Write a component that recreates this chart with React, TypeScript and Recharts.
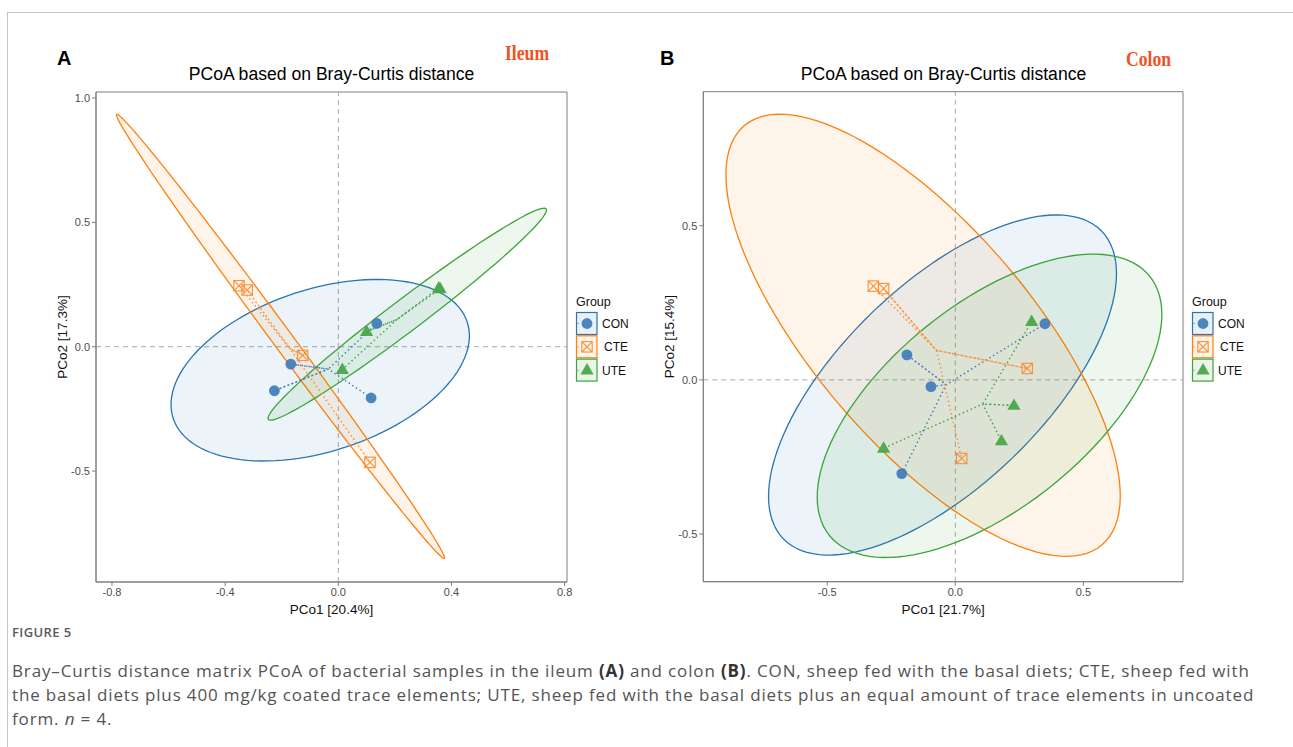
import React from 'react';
import {
  ScatterChart,
  Scatter,
  XAxis,
  YAxis,
  ReferenceLine,
  ReferenceArea,
  Legend,
  Label,
} from 'recharts';

type Pt = { x: number; y: number };
type Group = 'CON' | 'CTE' | 'UTE';

const GROUPS: Group[] = ['CON', 'CTE', 'UTE'];

const LINE_COLORS: Record<Group, string> = { CON: '#2b74b6', CTE: '#ff7f0e', UTE: '#3da33d' };
const POINT_COLORS: Record<Group, string> = { CON: '#3f7cb8', CTE: '#f7913a', UTE: '#4aa64a' };
const FILL_COLORS: Record<Group, string> = { CON: '#1f77b4', CTE: '#ff7f0e', UTE: '#2ca02c' };
const AXIS = '#7f7f7f';

// --- A: ileum (PCo1 / PCo2 scores, one per sheep) ---
const ileumCON: Pt[] = [
  { x: 0.136, y: 0.094 }, { x: -0.168, y: -0.07 }, { x: -0.226, y: -0.177 }, { x: 0.116, y: -0.206 },
];
const ileumCTE: Pt[] = [
  { x: -0.351, y: 0.245 }, { x: -0.322, y: 0.228 }, { x: -0.126, y: -0.035 }, { x: 0.112, y: -0.465 },
];
const ileumUTE: Pt[] = [
  { x: 0.36, y: 0.233 }, { x: 0.355, y: 0.236 }, { x: 0.1, y: 0.061 }, { x: 0.014, y: -0.092 },
];
// 95% ellipses: [centre, end of major axis, end of minor axis]
const ileumEllCON = [[-0.064, -0.0945], [0.4558, 0.0989], [0.0251, -0.4041]];
const ileumEllCTE = [[-0.2044, 0.0418], [0.3748, -0.8508], [-0.1761, 0.0655]];
const ileumEllUTE = [[0.2436, 0.1307], [0.7345, 0.5537], [0.2779, 0.0796]];
const ileumXTicks = [-0.8, -0.4, 0, 0.4, 0.8];
const ileumYTicks = [-0.5, 0, 0.5, 1.0];

// --- B: colon ---
const colonCON: Pt[] = [
  { x: 0.35, y: 0.182 }, { x: -0.189, y: 0.081 }, { x: -0.095, y: -0.022 }, { x: -0.209, y: -0.304 },
];
const colonCTE: Pt[] = [
  { x: -0.32, y: 0.304 }, { x: -0.28, y: 0.296 }, { x: 0.281, y: 0.037 }, { x: 0.025, y: -0.255 },
];
const colonUTE: Pt[] = [
  { x: 0.298, y: 0.189 }, { x: 0.229, y: -0.083 }, { x: 0.18, y: -0.198 }, { x: -0.28, y: -0.222 },
];
const colonEllCON = [[-0.05, -0.0167], [0.5715, 0.4822], [0.2242, -0.2522]];
const colonEllCTE = [[-0.1258, 0.1445], [0.573, -0.535], [0.1973, 0.3735]];
const colonEllUTE = [[0.1336, -0.0842], [0.7586, 0.3365], [0.3828, -0.3394]];
const colonXTicks = [-0.5, 0, 0.5];
const colonYTicks = [-0.5, 0, 0.5];

function ellipseOutline(e: number[][], n = 120): Pt[] {
  const [c, a, b] = e;
  const out: Pt[] = [];
  for (let i = 0; i <= n; i++) {
    const t = (2 * Math.PI * i) / n;
    out.push({
      x: c[0] + (a[0] - c[0]) * Math.cos(t) + (b[0] - c[0]) * Math.sin(t),
      y: c[1] + (a[1] - c[1]) * Math.cos(t) + (b[1] - c[1]) * Math.sin(t),
    });
  }
  return out;
}

// spokes from each sample to the group centroid
function spider(pts: Pt[]): Pt[] {
  const c = {
    x: pts.reduce((s, p) => s + p.x, 0) / pts.length,
    y: pts.reduce((s, p) => s + p.y, 0) / pts.length,
  };
  const out: Pt[] = [];
  pts.forEach((p, i) => {
    if (i > 0) out.push(c);
    out.push(p);
  });
  return out;
}

const fmt = (v: number) => v.toFixed(1);
const noShape = () => <g />;

function Marker({ g, cx, cy }: { g: Group; cx: number; cy: number }) {
  const col = POINT_COLORS[g];
  if (g === 'CON') return <circle cx={cx} cy={cy} r={5.4} fill={col} fillOpacity={0.92} />;
  if (g === 'CTE') {
    const h = 5.2;
    return (
      <g stroke={col} strokeWidth={1.1} fill="none">
        <rect x={cx - h} y={cy - h} width={2 * h} height={2 * h} />
        <line x1={cx - h} y1={cy - h} x2={cx + h} y2={cy + h} />
        <line x1={cx - h} y1={cy + h} x2={cx + h} y2={cy - h} />
      </g>
    );
  }
  return (
    <polygon
      points={`${cx},${cy - 7} ${cx - 6.6},${cy + 4.4} ${cx + 6.6},${cy + 4.4}`}
      fill={col}
      fillOpacity={0.95}
    />
  );
}

function ellipseLine(g: Group) {
  return (props: any) => {
    const pts: { x: number; y: number }[] = props.points || [];
    const d = pts.map((p, i) => `${i ? 'L' : 'M'}${p.x},${p.y}`).join(' ') + ' Z';
    return (
      <path d={d} fill={FILL_COLORS[g]} fillOpacity={0.085} stroke={LINE_COLORS[g]} strokeWidth={1.3} />
    );
  };
}

function spiderLine(g: Group) {
  return (props: any) => {
    const pts: { x: number; y: number }[] = props.points || [];
    const d = pts.map((p, i) => `${i ? 'L' : 'M'}${p.x},${p.y}`).join(' ');
    return (
      <path
        d={d}
        fill="none"
        stroke={POINT_COLORS[g]}
        strokeWidth={1.6}
        strokeDasharray="0.1 4.2"
        strokeLinecap="round"
      />
    );
  };
}

function GroupLegend() {
  const rowY = [19.5, 42.8, 66.1];
  return (
    <svg width={80} height={92} style={{ display: 'block', overflow: 'visible' }}>
      <text x={0} y={13} fontSize={12.5} fill="#111">Group</text>
      {GROUPS.map((g, i) => (
        <g key={g}>
          <rect x={0.5} y={rowY[i]} width={20.5} height={22} fill={FILL_COLORS[g]} fillOpacity={0.1}
            stroke={LINE_COLORS[g]} strokeWidth={1.2} />
          <line x1={1.5} y1={rowY[i] + 11} x2={4} y2={rowY[i] + 11} stroke={LINE_COLORS[g]}
            strokeWidth={1.2} strokeDasharray="1 1.5" />
          <Marker g={g} cx={11} cy={rowY[i] + 11} />
          <text x={g === 'CTE' ? 28 : 26} y={rowY[i] + 15.5} fontSize={12} fill="#111">{g}</text>
        </g>
      ))}
    </svg>
  );
}

type PanelProps = {
  left: number;
  top: number;
  width: number;
  height: number;
  margin: { top: number; right: number; bottom: number; left: number };
  points: Record<Group, Pt[]>;
  ellipses: Record<Group, number[][]>;
  xDomain: [number, number];
  yDomain: [number, number];
  xTicks: number[];
  yTicks: number[];
  xTitle: string;
  yTitle: string;
  legendLeft: number;
  legendTop: number;
};

const Y_AXIS_W = 40;
const X_AXIS_H = 36;

function PcoaPanel(p: PanelProps) {
  const plotTop = p.margin.top;
  const plotH = p.height - p.margin.top - p.margin.bottom - X_AXIS_H;
  const yTitleX = p.margin.left + Y_AXIS_W - 34;
  const yTitleY = plotTop + plotH / 2;

  return (
    <div style={{ position: 'absolute', left: p.left, top: p.top }}>
      <ScatterChart width={p.width} height={p.height} margin={p.margin}>
        <XAxis
          type="number"
          dataKey="x"
          domain={p.xDomain}
          ticks={p.xTicks}
          allowDataOverflow
          interval={0}
          tickFormatter={fmt}
          tickSize={4}
          height={X_AXIS_H}
          axisLine={{ stroke: AXIS }}
          tickLine={{ stroke: AXIS }}
          tick={{ fill: '#4d4d4d', fontSize: 11 }}
        >
          <Label value={p.xTitle} position="insideBottom" offset={4} fill="#111" fontSize={13.5} />
        </XAxis>
        <YAxis
          type="number"
          dataKey="y"
          domain={p.yDomain}
          ticks={p.yTicks}
          allowDataOverflow
          interval={0}
          tickFormatter={fmt}
          tickSize={4}
          width={Y_AXIS_W}
          axisLine={{ stroke: AXIS }}
          tickLine={{ stroke: AXIS }}
          tick={{ fill: '#4d4d4d', fontSize: 11 }}
        >
          <Label
            content={() => (
              <text
                x={yTitleX}
                y={yTitleY}
                transform={`rotate(-90 ${yTitleX} ${yTitleY})`}
                textAnchor="middle"
                dominantBaseline="central"
                fontSize={13.5}
                fill="#111"
              >
                {p.yTitle}
              </text>
            )}
          />
        </YAxis>
        <ReferenceArea
          x1={p.xDomain[0]}
          x2={p.xDomain[1]}
          y1={p.yDomain[0]}
          y2={p.yDomain[1]}
          fill="none"
          fillOpacity={0}
          stroke={AXIS}
          strokeWidth={1}
          ifOverflow="visible"
        />
        <ReferenceLine x={0} stroke="#a8a8a8" strokeDasharray="5 4" />
        <ReferenceLine y={0} stroke="#a8a8a8" strokeDasharray="5 4" />
        {GROUPS.map((g) => (
          <Scatter
            key={'ell' + g}
            data={ellipseOutline(p.ellipses[g])}
            shape={noShape}
            line={ellipseLine(g)}
            isAnimationActive={false}
          />
        ))}
        {GROUPS.map((g) => (
          <Scatter
            key={'spd' + g}
            data={spider(p.points[g])}
            shape={noShape}
            line={spiderLine(g)}
            isAnimationActive={false}
          />
        ))}
        {GROUPS.map((g) => (
          <Scatter
            key={'pt' + g}
            data={p.points[g]}
            shape={(s: any) => <Marker g={g} cx={s.cx} cy={s.cy} />}
            isAnimationActive={false}
          />
        ))}
        <Legend
          layout="vertical"
          align="center"
          verticalAlign="middle"
          content={() => <GroupLegend />}
          wrapperStyle={{ position: 'absolute', left: p.legendLeft, top: p.legendTop, width: 80 }}
        />
      </ScatterChart>
    </div>
  );
}

const headStyle: React.CSSProperties = {
  position: 'absolute',
  fontFamily: '"Liberation Sans", Arial, sans-serif',
  lineHeight: 1,
  whiteSpace: 'nowrap',
};

export default function App() {
  return (
    <div
      style={{
        position: 'absolute',
        left: 0,
        top: 0,
        width: 1293,
        height: 747,
        background: '#fff',
        overflow: 'hidden',
        fontFamily: '"Liberation Sans", Arial, sans-serif',
      }}
    >
      <div
        style={{
          position: 'absolute',
          left: 7,
          top: 12,
          width: 1300,
          height: 760,
          borderTop: '1px solid #c4c4c4',
          borderLeft: '1px solid #c4c4c4',
        }}
      />

      <PcoaPanel
        left={0}
        top={40}
        width={660}
        height={590}
        margin={{ top: 52, right: 93, bottom: 12, left: 56 }}
        points={{ CON: ileumCON, CTE: ileumCTE, UTE: ileumUTE }}
        ellipses={{ CON: ileumEllCON, CTE: ileumEllCTE, UTE: ileumEllUTE }}
        xDomain={[-0.8566, 0.8084]}
        yDomain={[-0.946, 1.0241]}
        xTicks={ileumXTicks}
        yTicks={ileumYTicks}
        xTitle="PCo1 [20.4%]"
        yTitle="PCo2 [17.3%]"
        legendLeft={576}
        legendTop={253}
      />
      <PcoaPanel
        left={620}
        top={40}
        width={673}
        height={590}
        margin={{ top: 51.7, right: 110, bottom: 12.3, left: 43.3 }}
        points={{ CON: colonCON, CTE: colonCTE, UTE: colonUTE }}
        ellipses={{ CON: colonEllCON, CTE: colonEllCTE, UTE: colonEllUTE }}
        xDomain={[-0.984, 0.889]}
        yDomain={[-0.6547, 0.9346]}
        xTicks={colonXTicks}
        yTicks={colonYTicks}
        xTitle="PCo1 [21.7%]"
        yTitle="PCo2 [15.4%]"
        legendLeft={571.5}
        legendTop={253}
      />

      <div style={{ ...headStyle, left: 57, top: 47.5, fontSize: 20, fontWeight: 700 }}>A</div>
      <div style={{ ...headStyle, left: 660, top: 47.5, fontSize: 20, fontWeight: 700 }}>B</div>
      <div style={{ ...headStyle, left: 331.5, top: 65.5, fontSize: 17.6, transform: 'translateX(-50%)' }}>
        PCoA based on Bray-Curtis distance
      </div>
      <div style={{ ...headStyle, left: 943.5, top: 65.5, fontSize: 17.6, transform: 'translateX(-50%)' }}>
        PCoA based on Bray-Curtis distance
      </div>
      <div
        style={{
          ...headStyle,
          left: 505,
          top: 43,
          fontSize: 21,
          fontWeight: 700,
          fontFamily: '"Liberation Serif", "Times New Roman", serif',
          color: '#f4511e',
          transform: 'scaleX(0.84)',
          transformOrigin: 'left top',
        }}
      >
        Ileum
      </div>
      <div
        style={{
          ...headStyle,
          left: 1126,
          top: 49,
          fontSize: 21,
          fontWeight: 700,
          fontFamily: '"Liberation Serif", "Times New Roman", serif',
          color: '#f4511e',
          transform: 'scaleX(0.84)',
          transformOrigin: 'left top',
        }}
      >
        Colon
      </div>

      <div
        style={{
          position: 'absolute',
          left: 12,
          top: 625,
          fontFamily: '"Open Sans", "Noto Sans", sans-serif',
          fontSize: 13,
          fontWeight: 600,
          color: '#5a5a5a',
          lineHeight: '14px',
          letterSpacing: 0.4,
        }}
      >
        FIGURE 5
      </div>
      <div
        style={{
          position: 'absolute',
          left: 12,
          top: 659,
          fontFamily: '"Open Sans", "Noto Sans", sans-serif',
          fontSize: 17,
          color: '#545454',
          lineHeight: '24px',
          letterSpacing: 0.85,
          whiteSpace: 'nowrap',
        }}
      >
        Bray–Curtis distance matrix PCoA of bacterial samples in the ileum <b style={{ color: '#333' }}>(A)</b> and
        colon <b style={{ color: '#333' }}>(B)</b>. CON, sheep fed with the basal diets; CTE, sheep fed with
        <br />
        the basal diets plus 400 mg/kg coated trace elements; UTE, sheep fed with the basal diets plus an equal amount
        of trace elements in uncoated
        <br />
        form. <i>n</i> = 4.
      </div>
    </div>
  );
}
